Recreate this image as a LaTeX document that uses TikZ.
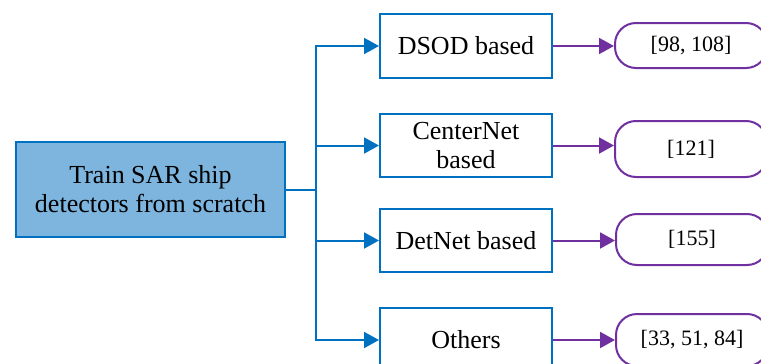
\documentclass[tikz,border=0pt]{standalone}
\usepackage{fontspec}
\setmainfont{Liberation Serif}
\usetikzlibrary{arrows.meta}
\definecolor{boxblue}{HTML}{0070C0}
\definecolor{fillblue}{HTML}{7DB5DE}
\definecolor{refpurple}{HTML}{7030A0}
\begin{document}
\begin{tikzpicture}[x=1pt,y=-1pt,
  mainbox/.style={draw=boxblue,fill=fillblue,line width=2pt,minimum width=269pt,minimum height=95pt,align=center,inner sep=0pt,font=\fontsize{26}{29}\selectfont},
  catbox/.style={draw=boxblue,fill=white,line width=2pt,minimum width=172pt,align=center,inner sep=0pt,font=\fontsize{26}{29}\selectfont},
  refbox/.style={draw=refpurple,fill=white,line width=2pt,rounded corners=21pt,minimum width=152pt,align=center,inner sep=0pt,font=\fontsize{22}{25}\selectfont},
  bluearrow/.style={draw=boxblue,line width=2pt,-{Triangle[length=15pt,width=16pt]}},
  purplearrow/.style={draw=refpurple,line width=2pt,-{Triangle[length=15pt,width=16pt]}}]
\useasboundingbox (0,0) rectangle (761,364);
\node[mainbox] (main) at (150.5,189.5) {Train SAR ship\\detectors from scratch};
\node[catbox,minimum height=64pt] (dsod) at (466,46) {DSOD based};
\node[catbox,minimum height=63pt] (center) at (466,145.5) {CenterNet\\based};
\node[catbox,minimum height=63pt] (detnet) at (466,240.5) {DetNet based};
\node[catbox,minimum height=64pt] (others) at (466,340) {Others};
\node[refbox,minimum height=45pt] (r1) at (691,45.5) {[98, 108]};
\node[refbox,minimum height=56pt] (r2) at (691,149) {[121]};
\node[refbox,minimum height=51pt] (r3) at (692,239.5) {[155]};
\node[refbox,minimum height=52pt] (r4) at (692,340) {[33, 51, 84]};
\coordinate (j) at (316,189.5);
\draw[boxblue,line width=2pt] (main.east) -- (j);
\draw[bluearrow] (j) |- (dsod.west);
\draw[bluearrow] (j) |- (center.west);
\draw[bluearrow] (j) |- (detnet.west);
\draw[bluearrow] (j) |- (others.west);
\draw[purplearrow] (dsod.east) -- (dsod.east -| r1.west);
\draw[purplearrow] (center.east) -- (center.east -| r2.west);
\draw[purplearrow] (detnet.east) -- (detnet.east -| r3.west);
\draw[purplearrow] (others.east) -- (others.east -| r4.west);
\end{tikzpicture}
\end{document}
